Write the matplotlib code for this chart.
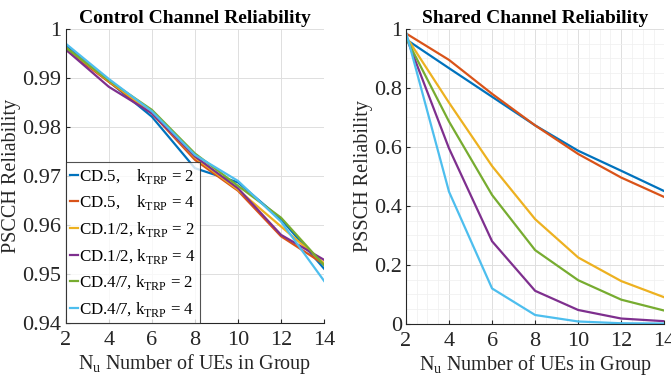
import numpy as np
import matplotlib
matplotlib.use('Agg')
import matplotlib.pyplot as plt
from matplotlib.ticker import MultipleLocator

plt.rcParams['font.family'] = ['Liberation Serif', 'DejaVu Serif']
plt.rcParams['mathtext.fontset'] = 'custom'
plt.rcParams['mathtext.rm'] = 'Liberation Serif'

# group sizes
n_ue = [2, 4, 6, 8, 10, 12, 14]

labels = ['CD.5,    k$_\\mathregular{TRP}$ = 2', 'CD.5,    k$_\\mathregular{TRP}$ = 4',
          'CD.1/2, k$_\\mathregular{TRP}$ = 2', 'CD.1/2, k$_\\mathregular{TRP}$ = 4',
          'CD.4/7, k$_\\mathregular{TRP}$ = 2', 'CD.4/7, k$_\\mathregular{TRP}$ = 4']
colors = ['#0072BD', '#D95319', '#EDB120', '#7E2F8E', '#77AC30', '#4DBEEE']

# control channel (PSCCH) reliability
pscch_cd5_k2 = [0.9967, 0.9893, 0.9821, 0.9716, 0.9687, 0.9612, 0.9511]
pscch_cd5_k4 = [0.9958, 0.9892, 0.9828, 0.9733, 0.9670, 0.9577, 0.9520]
pscch_cd12_k2 = [0.9962, 0.9894, 0.9830, 0.9738, 0.9672, 0.9597, 0.9522]
pscch_cd12_k4 = [0.9958, 0.9882, 0.9828, 0.9740, 0.9675, 0.9580, 0.9529]
pscch_cd47_k2 = [0.9962, 0.9895, 0.9835, 0.9746, 0.9680, 0.9615, 0.9518]
pscch_cd47_k4 = [0.9970, 0.9898, 0.9832, 0.9743, 0.9690, 0.9607, 0.9486]

# shared channel (PSSCH) reliability
pssch_cd5_k2 = [0.965, 0.867, 0.770, 0.673, 0.587, 0.519, 0.450]
pssch_cd5_k4 = [0.985, 0.895, 0.780, 0.673, 0.576, 0.496, 0.430]
pssch_cd12_k2 = [0.975, 0.750, 0.535, 0.355, 0.225, 0.145, 0.090]
pssch_cd12_k4 = [0.975, 0.595, 0.280, 0.112, 0.047, 0.018, 0.009]
pssch_cd47_k2 = [0.970, 0.686, 0.437, 0.250, 0.148, 0.082, 0.045]
pssch_cd47_k4 = [0.990, 0.448, 0.120, 0.030, 0.008, 0.002, 0.001]

ctrl = [pscch_cd5_k2, pscch_cd5_k4, pscch_cd12_k2, pscch_cd12_k4, pscch_cd47_k2, pscch_cd47_k4]
shared = [pssch_cd5_k2, pssch_cd5_k4, pssch_cd12_k2, pssch_cd12_k4, pssch_cd47_k2, pssch_cd47_k4]

fig = plt.figure(figsize=(6.71, 3.81), dpi=100)
ax1 = fig.add_axes([0.098, 0.152, 0.385, 0.772])
ax2 = fig.add_axes([0.605, 0.150, 0.385, 0.774])

for i in range(6):
    ax1.plot(n_ue, ctrl[i], color=colors[i], lw=1.6, label=labels[i])
    ax2.plot(n_ue, shared[i], color=colors[i], lw=1.6)

def style(ax, minor=False):
    ax.set_xlim(2, 14)
    ax.set_xticks(n_ue)
    for s in ['top', 'right']:
        ax.spines[s].set_visible(False)
    for s in ['left', 'bottom']:
        ax.spines[s].set_color('#262626')
        ax.spines[s].set_linewidth(0.8)
    ax.tick_params(direction='in', labelsize=16, colors='#262626', length=3, pad=3)
    ax.tick_params(axis='x', pad=6)
    ax.grid(True, which='major', color='#dedede', lw=0.7)
    if minor:
        ax.xaxis.set_minor_locator(MultipleLocator(0.5))
        ax.yaxis.set_minor_locator(MultipleLocator(0.05))
        ax.grid(True, which='minor', color='#efefef', lw=0.5)
        ax.tick_params(which='minor', length=0)
    ax.set_axisbelow(True)
    ax.set_xlabel('N$_\\mathregular{u}$ Number of UEs in Group', fontsize=14.5, color='#262626', labelpad=1)

ax1.set_ylim(0.94, 1.0)
ax1.set_yticks([0.94, 0.95, 0.96, 0.97, 0.98, 0.99, 1.0])
ax1.set_yticklabels(['0.94', '0.95', '0.96', '0.97', '0.98', '0.99', '1'])
style(ax1)
ax1.set_ylabel('PSCCH Reliability', fontsize=14.5, color='#262626', labelpad=1)
ax1.set_title('Control Channel Reliability', fontsize=14, fontweight='bold', pad=4)

ax2.set_ylim(0, 1)
ax2.set_yticks([0, 0.2, 0.4, 0.6, 0.8, 1.0])
ax2.set_yticklabels(['0', '0.2', '0.4', '0.6', '0.8', '1'])
style(ax2, minor=True)
ax2.set_ylabel('PSSCH Reliability', fontsize=14.5, color='#262626', labelpad=1)
ax2.set_title('Shared Channel Reliability', fontsize=14, fontweight='bold', pad=4)

leg = ax1.legend(loc='lower left', fontsize=12.2, frameon=True, fancybox=False,
                 handlelength=0.45, handletextpad=0.1, borderpad=0.25,
                 labelspacing=0.45, borderaxespad=0.0)
leg.get_frame().set_edgecolor('#262626')
leg.get_frame().set_linewidth(0.8)

fig.savefig('out.png', dpi=100)
